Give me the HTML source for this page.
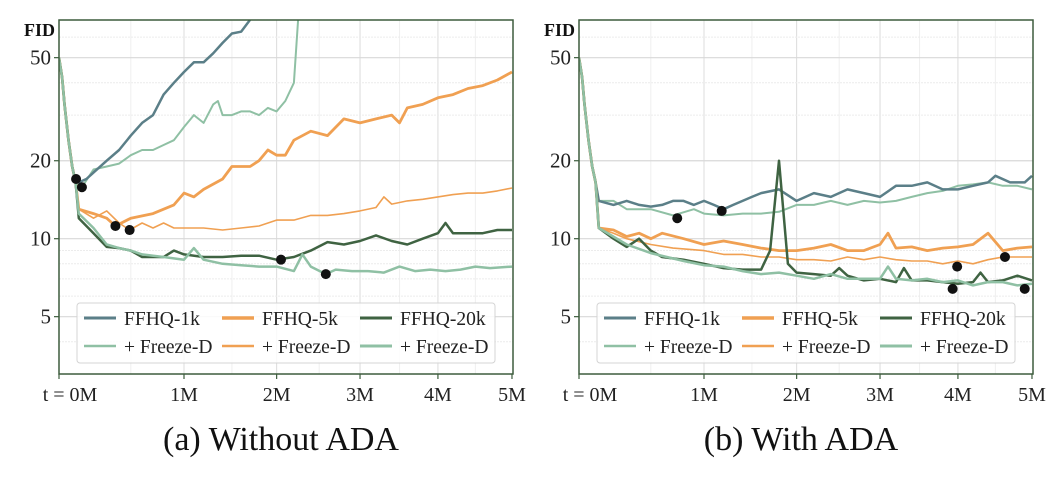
<!DOCTYPE html>
<html><head><meta charset="utf-8"><style>
body{margin:0;background:#fff}
svg{display:block;font-family:"Liberation Serif",serif}
</style></head><body>
<svg id="c" width="1059" height="479" viewBox="0 0 1059 479"></svg>
<script>
// ---------- data ----------
const xTicks=[0,1,2,3,4,5];
const xTickLabels=["t = 0M","1M","2M","3M","4M","5M"];
const yTicks=[5,10,20,50];
const yMinor=[3,4,6,7,8,9,30,40,60,70];
const early=[0,0.01,0.02,0.04,0.06,0.08];
const earlyV=[50,42,33,24,19,16.5];

// Panel A (without ADA)
const tA1k=[0.1,0.15,0.2,0.3,0.4,0.5,0.6,0.7,0.8,0.9,1.0,1.1,1.2,1.3,1.4,1.5,1.6,1.7,1.75,1.8];
const vA1k=[16.5,17,18,20,22,25,28,30,36,40,44,48,48,52,57,62,63,70,80,90];
const tA1kF=[0.1,0.12,0.2,0.3,0.4,0.5,0.6,0.7,0.8,0.9,1.0,1.1,1.2,1.3,1.35,1.4,1.5,1.6,1.7,1.8,1.9,2.0,2.1,2.2,2.25,2.3];
const vA1kF=[16,15.8,18.5,19,19.5,21,22,22,23,24,27,30,28,33,34,30,30,31,31,30,32,31,34,40,70,95];
const tA5k=[0.1,0.2,0.3,0.37,0.5,0.7,0.9,1.0,1.1,1.2,1.4,1.5,1.7,1.8,1.9,2.0,2.1,2.2,2.4,2.6,2.8,3.0,3.2,3.4,3.5,3.6,3.8,4.0,4.2,4.4,4.6,4.8,5.0];
const vA5k=[13,12.5,12,11.2,12,12.5,13.5,15,14.5,15.5,17,19,19,20,22,21,21,24,26,25,29,28,29,30,28,32,33,35,36,38,39,41,44];
const tA5kF=[0.1,0.2,0.3,0.4,0.49,0.6,0.7,0.8,0.9,1.0,1.2,1.4,1.6,1.8,2.0,2.2,2.4,2.6,2.8,3.0,3.2,3.3,3.4,3.6,3.8,4.0,4.2,4.4,4.6,4.8,5.0];
const vA5kF=[13,12,12.8,11.5,10.8,11.5,11,11.5,11,11,11,10.8,11,11.2,11.8,11.8,12.3,12.3,12.5,12.8,13.2,14.5,13.6,14,14.2,14.5,14.8,15,15,15.3,15.7];
const tA20k=[0.1,0.2,0.3,0.4,0.5,0.6,0.7,0.8,0.9,1.0,1.2,1.4,1.6,1.8,2.0,2.2,2.4,2.6,2.8,3.0,3.2,3.4,3.6,3.8,4.0,4.1,4.2,4.4,4.6,4.8,5.0];
const vA20k=[12,10.5,9.3,9.2,9,8.5,8.5,8.5,9,8.7,8.5,8.5,8.6,8.6,8.3,8.5,9,9.7,9.5,9.8,10.3,9.8,9.5,10,10.5,11.5,10.5,10.5,10.5,10.8,10.8];
const tA20kF=[0.1,0.2,0.3,0.4,0.5,0.6,0.8,1.0,1.1,1.2,1.4,1.6,1.8,2.0,2.2,2.3,2.4,2.58,2.7,2.9,3.1,3.3,3.5,3.7,3.9,4.1,4.3,4.5,4.7,5.0];
const vA20kF=[12.5,11,9.5,9.2,9,8.7,8.5,8.3,9.2,8.3,8,7.9,7.8,7.8,7.5,8.7,7.8,7.3,7.6,7.5,7.5,7.4,7.8,7.5,7.6,7.5,7.6,7.8,7.7,7.8];
const dotsAT=[0.083,0.12,0.37,0.49,2.05,2.58];
const dotsAV=[17,15.8,11.2,10.8,8.3,7.3];

// Panel B (with ADA)
const tB1k=[0.1,0.2,0.3,0.4,0.5,0.6,0.7,0.8,0.9,1.0,1.1,1.2,1.3,1.4,1.5,1.6,1.8,2.0,2.2,2.4,2.6,2.8,3.0,3.2,3.4,3.6,3.8,4.0,4.2,4.4,4.5,4.7,4.9,5.0];
const vB1k=[14,13.5,14,13.5,13.3,13.5,14,14,13.5,14,13.5,13,13.5,14,14.5,15,15.5,14,15,14.5,15.5,15,14.5,16,16,16.5,15.5,15.5,16,16.5,17.5,16.5,16.5,17.5];
const tB1kF=[0.1,0.2,0.3,0.5,0.7,0.9,1.0,1.2,1.4,1.6,1.8,2.0,2.2,2.4,2.6,2.8,3.0,3.2,3.4,3.6,3.8,4.0,4.2,4.4,4.6,4.8,5.0];
const vB1kF=[14,14,13,13,12.3,13,12.5,12.3,12.5,12.5,12.7,13.5,13.5,14,13.5,14,13.8,14,14.5,15,15.3,16,16.2,16.5,16,16,15.5];
const tB5k=[0.1,0.2,0.3,0.4,0.5,0.6,0.8,1.0,1.2,1.4,1.6,1.8,2.0,2.2,2.4,2.6,2.8,3.0,3.1,3.2,3.4,3.6,3.8,4.0,4.2,4.4,4.6,4.8,5.0];
const vB5k=[11,10.8,10.2,10.5,10,10.5,10,9.5,9.8,9.5,9.2,9,9,9.2,9.5,9,9,9.5,10.5,9.2,9.3,9,9.2,9.3,9.5,10.5,9,9.2,9.3];
const tB5kF=[0.1,0.2,0.3,0.5,0.7,1.0,1.2,1.4,1.6,1.8,2.0,2.2,2.4,2.6,2.8,3.0,3.2,3.4,3.6,3.8,4.0,4.2,4.4,4.6,4.8,5.0];
const vB5kF=[11,10.5,10,9.5,9.2,9,8.7,8.7,8.5,8.5,8.3,8.3,8.2,8.5,8.3,8.5,8.3,8.2,8.2,8,8.2,8,8.3,8.5,8.5,8.5];
const tB20k=[0.1,0.2,0.3,0.4,0.5,0.6,0.8,1.0,1.2,1.4,1.6,1.7,1.8,1.9,2.0,2.2,2.4,2.5,2.6,2.8,3.0,3.2,3.3,3.4,3.6,3.8,4.0,4.2,4.3,4.4,4.6,4.8,5.0];
const vB20k=[11,10,9.3,10,9,8.5,8.3,8,7.7,7.6,7.6,9,20,8,7.4,7.3,7.2,7.7,7.2,6.9,7,6.8,7.7,6.9,6.9,6.8,6.7,6.8,7.4,6.8,6.9,7.2,6.9];
const tB20kF=[0.1,0.3,0.5,0.8,1.0,1.2,1.4,1.6,1.8,2.0,2.2,2.4,2.6,2.8,3.0,3.1,3.2,3.4,3.6,3.8,4.0,4.2,4.4,4.6,4.8,5.0];
const vB20kF=[11,9.5,8.8,8.2,7.9,7.8,7.5,7.3,7.4,7.2,7,7.3,7,7,7,7.8,7,6.9,7,6.8,6.9,6.6,6.8,6.8,6.6,6.7];
const dotsBT=[0.74,1.18,3.93,3.99,4.63,4.9];
const dotsBV=[12,12.8,6.4,7.8,8.5,6.4];

// ---------- drawing ----------
const NS="http://www.w3.org/2000/svg";
const svg=document.getElementById('c');
const TOP=20,BOT=374,W=454;
const C1k="#5b7f88",CF="#8fc0a4",C5k="#f0a052",C20k="#3f6342";
function Y(v){return 238.7-259*Math.log10(v/10);}
function mk(tag,attrs,parent){const e=document.createElementNS(NS,tag);for(const k in attrs)e.setAttribute(k,attrs[k]);(parent||svg).appendChild(e);return e;}
function panel(ox,id,series,dT,dV,caption){
  const X=t=>ox+125*Math.pow(t,0.8);
  const g=mk('g',{});
  
  
  const cp=mk('clipPath',{id:'cp'+id},g);
  mk('rect',{x:ox,y:TOP,width:W,height:BOT-TOP},cp);
  for(let t=0.5;t<5;t+=0.5){const l=mk('line',{x1:X(t),x2:X(t),y1:TOP,y2:BOT,stroke:t%1?"#efefef":"#dcdcdc","stroke-width":1},g);
    }
  yMinor.forEach(v=>{const l=mk('line',{x1:ox,x2:ox+W,y1:Y(v),y2:Y(v),stroke:"#ececec","stroke-width":1,"stroke-dasharray":"2,1"},g);
    });
  yTicks.forEach(v=>{const l=mk('line',{x1:ox,x2:ox+W,y1:Y(v),y2:Y(v),stroke:"#d8d8d8","stroke-width":1.2},g);
    
    const tk=mk('line',{x1:ox-5,x2:ox,y1:Y(v),y2:Y(v),stroke:"#3d5c3d","stroke-width":1.2},g);
    
    const tx=mk('text',{x:ox-8,y:Y(v)+7,"text-anchor":"end","font-size":21,fill:"#222"},g);tx.textContent=v;
    });
  xTicks.forEach((t,i)=>{const tk=mk('line',{x1:X(t),x2:X(t),y1:BOT,y2:BOT+5,stroke:"#3d5c3d","stroke-width":1.2},g);
    
    const tx=mk('text',{x:i==0?X(t)+11:X(t),y:BOT+27,"text-anchor":"middle","font-size":20,fill:"#222"},g);tx.textContent=xTickLabels[i];
    });
  const fl=mk('text',{x:ox-4,y:36,"text-anchor":"end","font-size":18,"font-weight":"bold",fill:"#111"},g);fl.textContent="FID";
  
  const sg=mk('g',{"clip-path":"url(#cp"+id+")"},g);
  series.forEach(s=>{
    const ts=early.concat(s.t),vs=earlyV.concat(s.v);
    const d=ts.map((t,i)=>(i?'L':'M')+X(t).toFixed(1)+','+Y(vs[i]).toFixed(1)).join('');
    const p=mk('path',{d:d,fill:"none",stroke:s.c,"stroke-width":s.w,"stroke-linejoin":"round"},sg);
    
  });
  dT.forEach((t,i)=>{const c=mk('circle',{cx:X(t),cy:Y(dV[i]),r:5,fill:"#111"},sg);
    });
  const fr=mk('rect',{x:ox,y:TOP,width:W,height:BOT-TOP,fill:"none",stroke:"#3d5c3d","stroke-width":1.5},g);
  
  const lg=mk('g',{},g);
  
  mk('rect',{x:ox+18,y:303,width:418,height:60,rx:3,fill:"rgba(255,255,255,0.85)",stroke:"#d4d4d4"},lg);
  const items=[["FFHQ-1k",C1k,3],["FFHQ-5k",C5k,3.5],["FFHQ-20k",C20k,3],["+ Freeze-D",CF,2.5],["+ Freeze-D",C5k,2.5],["+ Freeze-D",CF,3]];
  items.forEach((it,i)=>{const col=i%3,row=Math.floor(i/3);const lx=ox+25+col*138,ly=318+row*28;
    const e=mk('g',{},lg);
    mk('line',{x1:lx,x2:lx+32,y1:ly,y2:ly,stroke:it[1],"stroke-width":it[2]},e);
    const tx=mk('text',{x:lx+40,y:ly+7,"font-size":19.5,fill:"#222"},e);tx.textContent=it[0];});
  const cap=mk('text',{x:ox+W/2-5,y:450,"text-anchor":"middle","font-size":34,fill:"#111"},g);cap.textContent=caption;
  
}
panel(59,'a',[
 {t:tA1kF,v:vA1kF,c:CF,w:2,n:'ffhq-1k-freeze-d'},
 {t:tA1k,v:vA1k,c:C1k,w:2.5,n:'ffhq-1k'},
 {t:tA5kF,v:vA5kF,c:C5k,w:1.6,n:'ffhq-5k-freeze-d'},
 {t:tA5k,v:vA5k,c:C5k,w:2.8,n:'ffhq-5k'},
 {t:tA20k,v:vA20k,c:C20k,w:2.5,n:'ffhq-20k'},
 {t:tA20kF,v:vA20kF,c:CF,w:2.5,n:'ffhq-20k-freeze-d'}],dotsAT,dotsAV,"(a) Without ADA");
panel(579,'b',[
 {t:tB1kF,v:vB1kF,c:CF,w:2,n:'ffhq-1k-freeze-d'},
 {t:tB1k,v:vB1k,c:C1k,w:2.5,n:'ffhq-1k'},
 {t:tB5kF,v:vB5kF,c:C5k,w:1.6,n:'ffhq-5k-freeze-d'},
 {t:tB5k,v:vB5k,c:C5k,w:2.8,n:'ffhq-5k'},
 {t:tB20k,v:vB20k,c:C20k,w:2.5,n:'ffhq-20k'},
 {t:tB20kF,v:vB20kF,c:CF,w:2.5,n:'ffhq-20k-freeze-d'}],dotsBT,dotsBV,"(b) With ADA");
</script>
</body></html>
